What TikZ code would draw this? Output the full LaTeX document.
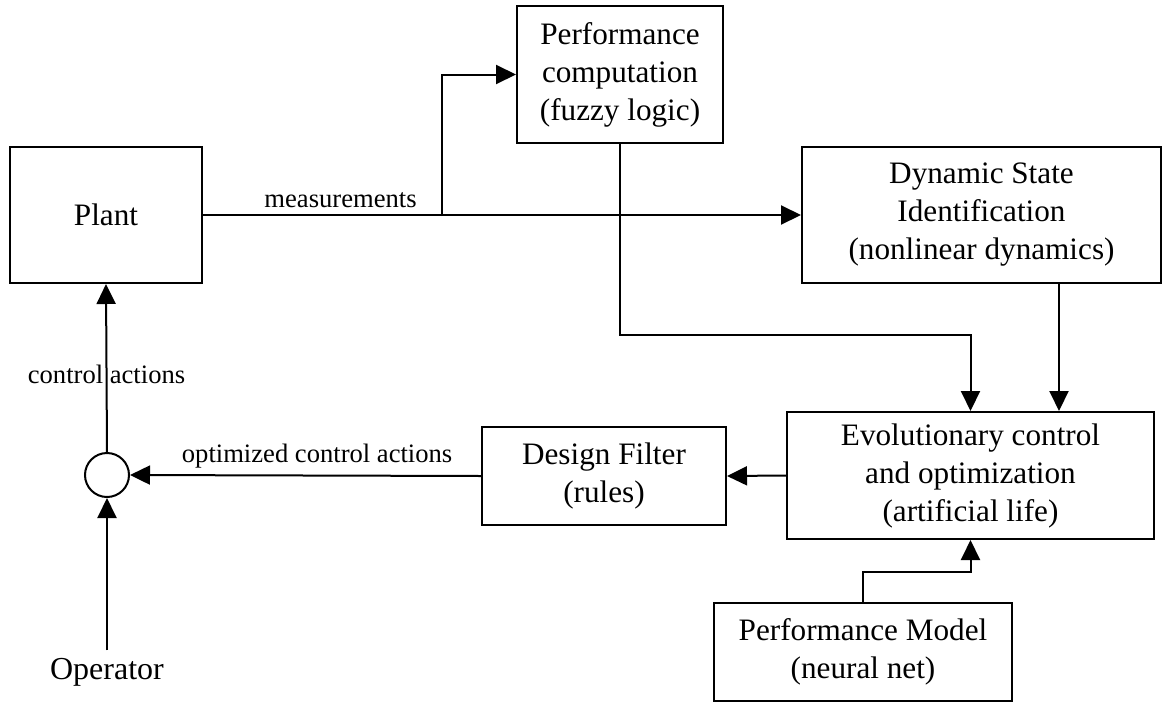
\documentclass[tikz,border=0pt]{standalone}
\usepackage{fontspec}
\setmainfont{Liberation Serif}
\usetikzlibrary{arrows.meta,calc}
\begin{document}
\begin{tikzpicture}[x=0.5pt,y=-0.5pt,line width=1pt,
                        blk/.style={draw,align=center,inner sep=0pt,font=\fontsize{15.6}{19}\selectfont},
                        lbl/.style={font=\fontsize{13.3}{15}\selectfont},
                        arr/.style={-{Triangle[length=10pt,width=9.5pt]}}]
                        \useasboundingbox (0,0) rectangle (1162,702);
                        \node[blk,minimum width=96pt,minimum height=68pt] (plant) at (106,215) {Plant};
                        \node[blk,minimum width=103pt,minimum height=68.5pt] (perf) at (620,74.5) {Performance\\computation\\(fuzzy logic)};
                        \node[blk,minimum width=179.5pt,minimum height=68pt] (dsi) at (981.5,215) {Dynamic State\\Identification\\(nonlinear dynamics)};
                        \node[blk,minimum width=183.5pt,minimum height=63.5pt] (evo) at (970.5,475.5) {Evolutionary control\\and optimization\\(artificial life)};
                        \node[blk,minimum width=122pt,minimum height=49pt] (filter) at (604,476) {Design Filter\\(rules)};
                        \node[blk,minimum width=149pt,minimum height=49pt] (pmodel) at (863,652) {Performance Model\\(neural net)};
                        \node[draw,circle,minimum size=22pt,inner sep=0pt] (sum) at (107,475) {};
                        \node[font=\fontsize{16}{19}\selectfont] (oper) at (107,672) {Operator};
                        \draw[arr] (plant.east) -- node[lbl,above,pos=0.23] {measurements} (dsi.west);
                        \coordinate (br) at (442,216);
                        \draw[arr] (br) |- (perf.west);
                        \draw[arr] (perf.south) -- (perf.south |- 0,335) -| (evo.north);
                        \draw[arr] ($(dsi.south)+(77.5,0)$) coordinate (dsiout) -- (dsiout |- evo.north);
                        \draw[arr] (evo.west) -- (filter.east);
                        \draw[arr] (filter.west) -- node[lbl,above,pos=0.467] {optimized control actions} (sum.east);
                        \draw[arr] (sum.north) -- node[lbl,pos=0.46] {control actions} (plant.south);
                        \draw[arr] (oper.north) -- (sum.south);
                        \draw[arr] (pmodel.north) -- (pmodel.north |- 0,572) -| (evo.south);
                    \end{tikzpicture}
\end{document}
